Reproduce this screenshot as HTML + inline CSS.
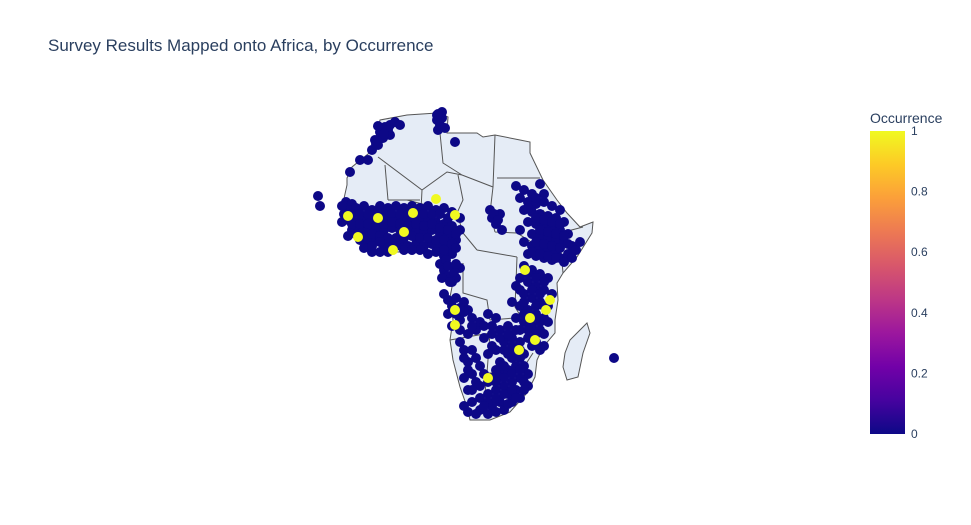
<!DOCTYPE html>
<html><head><meta charset="utf-8">
<style>
body{margin:0;background:#fff;font-family:"Liberation Sans",sans-serif;}
svg{display:block}
</style></head>
<body>
<svg id="chart" width="971" height="525" viewBox="0 0 971 525" xmlns="http://www.w3.org/2000/svg">
<rect width="971" height="525" fill="#fff"/>
<text x="48" y="51" font-size="17" fill="#2a3f5f">Survey Results Mapped onto Africa, by Occurrence</text>
<g>
<path fill="#e5ecf6" stroke="#555" stroke-width="1" d="M380,120 L407,115 L437,113 L448,117 L447,133 L477,133 L483,137 L495,135 L520,140 L530,142 L530,153 L543,180 L557,200 L567,213 L580,227 L593,222 L592,233 L577,257 L563,273 L557,283 L558,300 L555,320 L555,333 L543,347 L537,360 L535,377 L527,393 L510,412 L490,420 L470,420 L467,407 L460,387 L453,360 L450,340 L453,320 L450,297 L452,287 L440,273 L442,263 L453,257 L447,253 L423,252 L407,252 L390,252 L377,253 L363,243 L353,230 L343,217 L343,203 L347,185 L347,178 L352,167 L363,158 L373,150 Z"/>
<path fill="#e5ecf6" stroke="#555" stroke-width="1" d="M587,323 L590,333 L583,353 L578,377 L567,380 L563,367 L565,353 L570,340 L577,333 Z"/>
<path fill="none" stroke="#555" stroke-width="1" d="M385,165 L388,200 M378,157 L422,190 L447,172 L462,175 M440,133 L443,163 L462,175 M495,135 L493,187 M497,178 L540,178 M462,175 L493,187 L490,213 L495,232 M407,200 L457,213 M458,175 L463,200 L457,213 L463,233 L477,250 M477,250 L517,257 M495,232 L517,233 L533,243 M543,210 L560,233 L583,227 M533,243 L560,240 L563,273 M517,257 L515,307 L523,320 M463,263 L463,293 L487,300 L490,320 L515,318 M450,340 L490,333 L487,373 L485,393 M487,373 L520,373 L533,353 M422,190 L420,230 M388,200 L420,200"/>
</g>
<g id="markers"></g>
<defs>
<linearGradient id="plasma" x1="0" y1="1" x2="0" y2="0">
<stop offset="0" stop-color="#0d0887"/><stop offset="0.111" stop-color="#46039f"/><stop offset="0.222" stop-color="#7201a8"/><stop offset="0.333" stop-color="#9c179e"/><stop offset="0.444" stop-color="#bd3786"/><stop offset="0.556" stop-color="#d8576b"/><stop offset="0.667" stop-color="#ed7953"/><stop offset="0.778" stop-color="#fb9f3a"/><stop offset="0.889" stop-color="#fdca26"/><stop offset="1" stop-color="#f0f921"/>
</linearGradient>
</defs>
<g>
<text x="870" y="123" font-size="14" fill="#2a3f5f">Occurrence</text>
<rect x="870" y="131" width="35" height="303" fill="url(#plasma)"/>
<g id="cbticks" font-size="12" fill="#2a3f5f"></g>
</g>
<script>
const occurrence0Sites=[[-6.25,32.5],[-5,34.5],[-3.75,35.75],[-2.5,36.25],[-1.25,37],[0,36.25],[-5.5,31.25],[-7,30],[-2.5,33.75],[-4.25,33],[-10,27.5],[-12.5,24.5],[-8,27.5],[-5.5,36],[-3,35],[-6,31.5],[-4,34],
[9.25,38.75],[10.5,38],[10,36.25],[9.5,35],[11.25,35.5],[9.25,37.5],[13.75,32],[10.5,39.5],[9.5,39],
[-13.5,17],[-12,16.5],[-13,15],[-11,15.5],[-9,16],[-7,15],[-5,16],[-3,15.5],[-1,16],[1,15.5],[3,16],[5,15.5],[7,16],[9,15],[11,15.5],[13,14.5],[15,13],
[-13,12.5],[-11,12],[-9,13],[-7,12],[-5,12.5],[-3,13],[-1,12.5],[1,13],[3,12],[5,12.5],[7,13],[9,12],[11,11.5],[13,11],[15,10],
[-12,10],[-10,10.5],[-8,10],[-6,9.5],[-4,10],[-2,10.5],[0,10],[2,9.5],[4,10],[6,9.5],[8,10],[10,9],[12,8.5],[14,7.5],
[-10,7.5],[-8,7],[-6,7.5],[-4,6],[-2,6.5],[0,7],[2,6],[4,6.5],[6,6],[8,6.5],[10,6],[12,5.5],[13,4],
[-5,4.5],[-3,5.5],[1,5],[5,5],[9,4.5],[11,3.5],[-14,14],[-12.5,13.5],[-13,8.5],[-7,4.5],
[-12,14],[-10,14],[-8,14],[-6,14],[-4,14],[-2,14],[0,14],[2,14],[4,14],[6,14],[8,14],[10,14],[12,13],
[-12,11.5],[-10,11.5],[-8,11.5],[-6,11],[-4,11.5],[-2,12],[0,11.5],[2,11],[4,11.5],[6,11],[8,11.5],[10,10.5],[12,10],[14,9],
[-11,9],[-9,8.5],[-7,9],[-5,8.5],[-3,8],[-1,8],[1,8],[3,8.5],[5,8],[7,8],[9,7.5],[11,7.5],[13,6.5],
[-9,5.5],[-7,6],[-5,7],[-3,4.5],[-1,6],[3,5],[7,4],[11,5],[14,5.5],[-14.5,16],[-14.5,12],
[-20.5,18.5],[-20,16],
[10,1.5],[11,0],[12,-1.5],[13,-3],[14,-2],[15,0.5],[11.5,2.5],[13.5,-0.5],[10.5,-2],[12,1],[14,1.5],[12.5,-3],
[22.5,15],[23,13],[24,11.5],[25,14],[25.5,10],[23.5,14],[24.5,12.5],[29,21],[31,20],[33,19],[35,21.5],[30,18],[32,17],[34,16.5],[36,17],[38,16],[31,15],[33,14.5],[35,14],[37,13.5],[39,13],[41,12],[32,12],[34,11.5],[36,11],[38,10.5],[40,10],[42,9],[43,6],[33,9],[35,8.5],[37,8],[39,7.5],[41,7],[31,7],[33,6],[35,5.5],[37,5],[39,4.5],[32,4],[34,3.5],[36,3],[38,2.5],[40,3],[42,4],[44,5],[30,10],[36,19],[40,15],
[34,13],[36,12.5],[38,12],[40,11.5],[35,10],[37,9.5],[39,9],[41,8.5],[34,7],[36,6.5],[38,6],[40,5.5],[42,6.5],[33,4.5],[35,4],[37,3.5],[39,3],[41,2],[43,3],[45,7],[32,15.5],[34,18],
[31,1],[33,0],[35,-1],[37,-2],[30,-2],[32,-3],[34,-4],[36,-5],[38,-6],[31,-6],[33,-7],[35,-8],[37,-9],[30,-9],[32,-10],[34,-11],[36,-12],[31,-13],[33,-14],[35,-15],[32,-17],[34,-18],[36,-19],[29,-4],[29,-12],[30,-15],[36,-16],
[32,-1],[34,-2],[36,-3],[30,-5],[33,-5],[35,-6],[31,-8],[34,-9],[36,-9],[31,-11],[33,-12],[35,-13],[37,-13],[32,-15],[34,-16],[33,-19],[35,-20],[28,-8],
[11,-6],[12,-7.5],[13,-9],[14,-11],[15,-12.5],[16,-8],[17,-10],[18,-12],[13,-14],[15,-15],[17,-16],[19,-15],[20,-13],[22,-11],[24,-12],[14,-7],[16,-10.5],[18,-14],[21,-14],[23,-14],[12,-11],[15,-9.5],
[21,-17],[23,-16],[25,-15],[27,-14],[26,-18],[28,-17],[30,-18],[24,-20],[27,-21],[29,-20],[31,-21],[22,-21],[25,-23],[25,-17],[27,-16],[29,-15],[28,-19],[30,-20],[23,-19],[26,-20],[28,-22],[30,-22],
[15,-18],[16,-20],[17,-23],[18,-26],[19,-28],[20,-24],[21,-26],[23,-27],[25,-26],[27,-25],[29,-24],[31,-24],[32,-26],[30,-27],[28,-28],[26,-29],[24,-30],[22,-31],[20,-32],[18,-33],[17,-30],[16,-27],[27,-31],[29,-30],[30,-32],[25,-33],[23,-34],[20,-35],[17,-35.5],[22,-36],[26,-35],[28,-33],[32,-29],[31,-28],
[16,-22],[18,-20],[17,-25],[19,-22],[24,-25],[26,-24],[28,-26],[30,-25],[26,-27],[24,-28],[22,-28],[20,-29],[22,-33],[24,-32],[26,-31],[28,-30],[19,-36],[21,-34],[24,-35.5],[27,-33.5],[29,-32],[31,-30],[18,-30],[16,-34],
[53.5,-22]];
const occurrence1Sites=[[9,17.75],[-5.5,13],[1,9.5],[3.25,14.25],[-10.5,8.25],[-1.75,5],[-13,13.5],[13.75,-10],[13.75,-13.75],[37.5,-7.5],[32.5,-12],[33.75,-17.5],[31.25,0],[13.75,13.75],[29.75,-20],[36.5,-10],[22,-27]];
const cbTickValues=[0,0.2,0.4,0.6,0.8,1];
const cbTickLabels=["0","0.2","0.4","0.6","0.8","1"];

const NS="http://www.w3.org/2000/svg";
function xProj(lon){return 400+4*lon;}
function yProj(lat){return 270-4*lat;}
function cbY(v){return 434-303*v;}
function colorFor(v){return v>=0.5?"#f0f921":"#0d0887";}
const g=document.getElementById("markers");
function drawSite(p,v){
  const c=document.createElementNS(NS,"circle");
  c.setAttribute("cx",xProj(p[0]));
  c.setAttribute("cy",yProj(p[1]));
  c.setAttribute("r",5);
  c.setAttribute("fill",colorFor(v));
  
  
  g.appendChild(c);
}
occurrence0Sites.forEach(p=>drawSite(p,0));
occurrence1Sites.forEach(p=>drawSite(p,1));
const tg=document.getElementById("cbticks");
cbTickValues.forEach((v,i)=>{
  const t=document.createElementNS(NS,"text");
  t.setAttribute("x",911);
  t.setAttribute("y",cbY(v)+4);
  t.textContent=cbTickLabels[i];
  
  
  tg.appendChild(t);
});
</script>
</svg>
</body></html>
